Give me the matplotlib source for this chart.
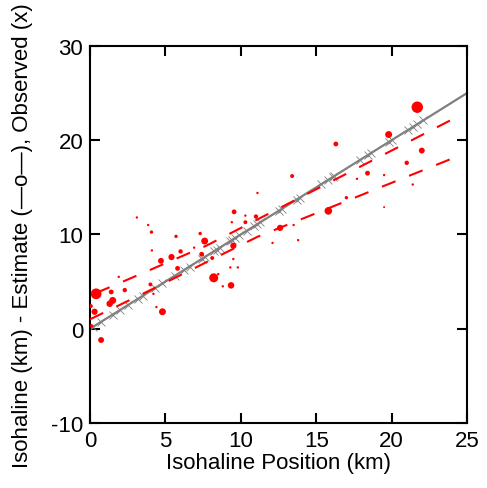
"""
Isohaline position: estimated vs observed
"""
import matplotlib
matplotlib.use('Agg')
import matplotlib.pyplot as plt

plt.rcParams['font.family'] = ['Liberation Sans', 'DejaVu Sans']
plt.rcParams['axes.unicode_minus'] = False

# observed isohaline positions (km), plotted against themselves
obs_x = [0.2, 0.7, 1.5, 2.0, 2.5, 3.2, 3.5, 4.3, 4.8, 5.6, 6.2, 6.6, 7.4, 7.6,
         8.2, 8.4, 8.6, 9.3, 9.4, 9.6, 9.9, 10.4, 10.9, 11.1, 11.3, 12.5, 12.7,
         13.7, 13.9, 15.3, 15.8, 16.1, 16.2, 17.9, 18.4, 18.6, 19.8, 20.0, 21.1,
         21.4, 21.7, 22.1]

# estimate curves (dashed)
upper_x = [0.4, 1.6, 7.7, 24.5]
upper_y = [3.8, 4.6, 8.8, 22.6]
lower_x = [0.0, 4.0, 11.1, 24.7]
lower_y = [1.0, 4.1, 9.75, 18.5]

# individual estimates (red dots), size ~ weight
est_x = [0.05, 0.1, 0.3, 0.4, 0.73, 1.3, 1.4, 1.5, 1.9, 2.3, 3.1, 3.85, 4.0,
         4.07, 4.1, 4.2, 4.4, 4.7, 4.8, 5.4, 5.7, 5.8, 6.0, 6.9, 7.3, 7.4, 7.6,
         8.1, 8.2, 8.5, 8.8, 9.3, 9.35, 9.4, 9.5, 9.5, 9.55, 9.8, 10.3, 10.3,
         11.0, 11.1, 12.1, 12.6, 13.4, 13.5, 13.8, 15.8, 16.3, 17.0, 17.7, 18.4,
         19.5, 19.5, 19.8, 21.0, 21.4, 21.7, 22.0]
est_y = [2.4, 0.3, 1.8, 3.7, -1.2, 2.65, 3.9, 3.0, 5.5, 4.1, 11.8, 11.0, 4.7,
         10.25, 8.3, 3.7, 2.3, 7.2, 1.8, 7.6, 9.8, 6.4, 8.2, 8.6, 10.1, 7.9, 9.3,
         7.5, 5.4, 5.8, 4.5, 6.5, 4.6, 11.3, 7.4, 8.8, 12.4, 6.5, 12.0, 11.3,
         11.9, 14.4, 9.1, 10.7, 16.2, 11.0, 9.4, 12.5, 19.6, 13.9, 15.9, 16.5,
         16.3, 12.9, 20.6, 17.6, 15.3, 23.5, 18.9]
est_s = [8, 6, 20, 60, 18, 22, 12, 25, 3, 10, 3, 3, 8,
         6, 3, 3, 3, 18, 25, 20, 6, 12, 10, 3, 6, 12, 25,
         8, 42, 3, 3, 3, 22, 3, 3, 20, 12, 3, 3, 8,
         10, 3, 3, 20, 8, 3, 3, 30, 12, 6, 3, 12,
         3, 2, 25, 10, 3, 68, 18]

fig = plt.figure(figsize=(4.87, 4.89), dpi=100)
ax = fig.add_axes([0.185, 0.133, 0.774, 0.771])

ax.plot([0, 25], [0, 25], color='#808080', linewidth=1.6, zorder=2)
ax.plot(obs_x, obs_x, linestyle='none', marker='x', markersize=6,
        markeredgewidth=0.6, color='#808080', zorder=2)
ax.plot(upper_x, upper_y, color='red', linewidth=1.5, dashes=(7, 7), zorder=3)
ax.plot(lower_x, lower_y, color='red', linewidth=1.5, dashes=(7, 7), zorder=3)
ax.scatter(est_x, est_y, s=est_s, color='red', linewidths=0, zorder=4)

ax.set_xlim(0, 25)
ax.set_ylim(-10, 30)
ax.set_xticks([0, 5, 10, 15, 20, 25])
ax.set_yticks([-10, 0, 10, 20, 30])
ax.tick_params(direction='in', length=7, width=1.5, top=True, right=True,
               labelsize=16)
ax.tick_params(axis='x', pad=5)
ax.tick_params(axis='y', pad=5)
for sp in ax.spines.values():
    sp.set_linewidth(1.5)

ax.set_xlabel('Isohaline Position (km)', fontsize=16, labelpad=1)
ax.set_ylabel('Isohaline (km) - Estimate (\u2014o\u2014), Observed (x)',
              fontsize=16)
ax.yaxis.set_label_coords(-0.152, 0.5)

fig.savefig('out.png', dpi=100)
